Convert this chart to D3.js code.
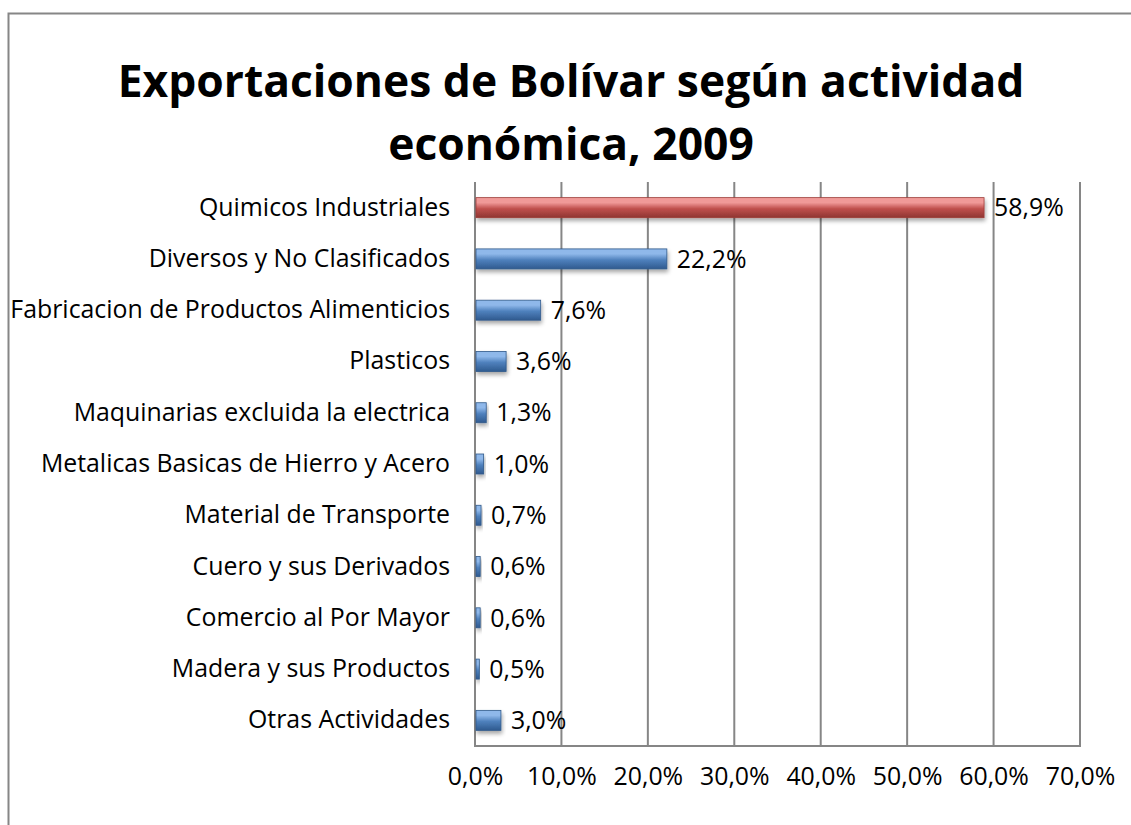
<!DOCTYPE html>
<html><head><meta charset="utf-8">
<script src="https://cdn.jsdelivr.net/npm/d3@7"></script>
<style>
html,body{margin:0;padding:0;background:#fff;}
svg{display:block;}
text{font-family:"Open Sans",Carlito,Lato,sans-serif;fill:#000;}
</style></head>
<body>
<svg id="c" width="1131" height="825"></svg>
<script>
const categories = ["Quimicos Industriales","Diversos y No Clasificados","Fabricacion de Productos Alimenticios","Plasticos","Maquinarias excluida la electrica","Metalicas Basicas de Hierro y Acero","Material de Transporte","Cuero y sus Derivados","Comercio al Por Mayor","Madera y sus Productos","Otras Actividades"];
const values = [58.9,22.2,7.6,3.6,1.3,1.0,0.7,0.6,0.6,0.5,3.0];
const valueLabels = ["58,9%","22,2%","7,6%","3,6%","1,3%","1,0%","0,7%","0,6%","0,6%","0,5%","3,0%"];
const tickValues = [0,10,20,30,40,50,60,70];
const tickLabels = ["0,0%","10,0%","20,0%","30,0%","40,0%","50,0%","60,0%","70,0%"];
const titleLines = ["Exportaciones de Bolívar según actividad","económica, 2009"];

const svg = d3.select("#c");
const defs = svg.append("defs");
function grad(id, light, mid, dark){
  const g = defs.append("linearGradient").attr("id",id).attr("x1",0).attr("y1",0).attr("x2",0).attr("y2",1);
  g.append("stop").attr("offset","0%").attr("stop-color",light);
  g.append("stop").attr("offset","25%").attr("stop-color",light);
  g.append("stop").attr("offset","55%").attr("stop-color",mid);
  g.append("stop").attr("offset","100%").attr("stop-color",dark);
}
grad("gBlue","#8fb8ea","#4f81bd","#2f5a8f");
grad("gRed","#f09a98","#c0504d","#8f3532");
const f = defs.append("filter").attr("id","sh").attr("x","-10%").attr("y","-30%").attr("width","130%").attr("height","190%");
f.append("feGaussianBlur").attr("in","SourceAlpha").attr("stdDeviation",2);
f.append("feOffset").attr("dx",1).attr("dy",3).attr("result","b");
f.append("feComponentTransfer").append("feFuncA").attr("type","linear").attr("slope",0.35);
const m = f.append("feMerge"); m.append("feMergeNode"); m.append("feMergeNode").attr("in","SourceGraphic");

// fit font size so that a text reaches a target width
function fitSize(sel, target, base){
  sel.style("font-size", base+"px");
  const w = sel.node().getComputedTextLength();
  return base*target/w;
}

// outer border (extends beyond canvas right and bottom)
svg.append("rect").attr("x",8.5).attr("y",13.5).attr("width",1200).attr("height",900)
  .attr("fill","none").attr("stroke","#868686").attr("stroke-width",2);

// title
const tt = svg.selectAll("text.title").data(titleLines).join("text").attr("class","title")
  .attr("x",571).attr("y",(d,i)=>97+i*63).attr("text-anchor","middle")
  .style("font-weight","bold").text(d=>d);
const tfs = fitSize(tt.filter((d,i)=>i===0), 907, 40);
tt.style("font-size", tfs+"px");

const x = d3.scaleLinear().domain([0,70]).range([475,1080]);
const y = d3.scaleBand().domain(categories).range([182,746]).paddingInner(0.61).paddingOuter(0.305);

// gridlines
svg.append("g").selectAll("line").data(tickValues).join("line")
  .attr("x1",d=>x(d)).attr("x2",d=>x(d)).attr("y1",182).attr("y2",746)
  .attr("stroke","#868686").attr("stroke-width",2);
svg.append("line").attr("x1",474).attr("x2",1081).attr("y1",746).attr("y2",746)
  .attr("stroke","#868686").attr("stroke-width",2);

// category labels
const ya = svg.append("g").attr("transform","translate(475,0)")
  .call(d3.axisLeft(y).tickSize(0).tickPadding(25));
ya.select(".domain").remove();
ya.selectAll("text").attr("font-family",null).attr("font-size",null);
const lfs = fitSize(ya.selectAll("text").filter(d=>d===categories[2]), 440, 20);
ya.selectAll("text").style("font-size", lfs+"px");

// x axis labels
const xa = svg.append("g").attr("transform","translate(0,746)")
  .call(d3.axisBottom(x).tickValues(tickValues).tickFormat((d,i)=>tickLabels[i]).tickSize(0).tickPadding(18));
xa.select(".domain").remove();
xa.selectAll("text").attr("font-family",null).attr("font-size",null).style("font-size", lfs+"px").attr("dy","0.85em");

// bars
const bars = svg.append("g").selectAll("g").data(categories).join("g").attr("filter","url(#sh)");
bars.append("rect")
  .attr("x",x(0)+1).attr("y",d=>y(d))
  .attr("width",(d,i)=>Math.max(x(values[i])-x(0)-1,2)).attr("height",y.bandwidth())
  .attr("fill",(d,i)=>i===0?"url(#gRed)":"url(#gBlue)")
  .attr("stroke",(d,i)=>i===0?"#9c3b38":"#30598a").attr("stroke-width",0.8);

// value labels
svg.append("g").selectAll("text").data(categories).join("text")
  .attr("x",(d,i)=>x(values[i])+10).attr("y",d=>y(d)+y.bandwidth()/2).attr("dy","0.35em")
  .style("font-size", lfs+"px").text((d,i)=>valueLabels[i]);
</script>
</body></html>
